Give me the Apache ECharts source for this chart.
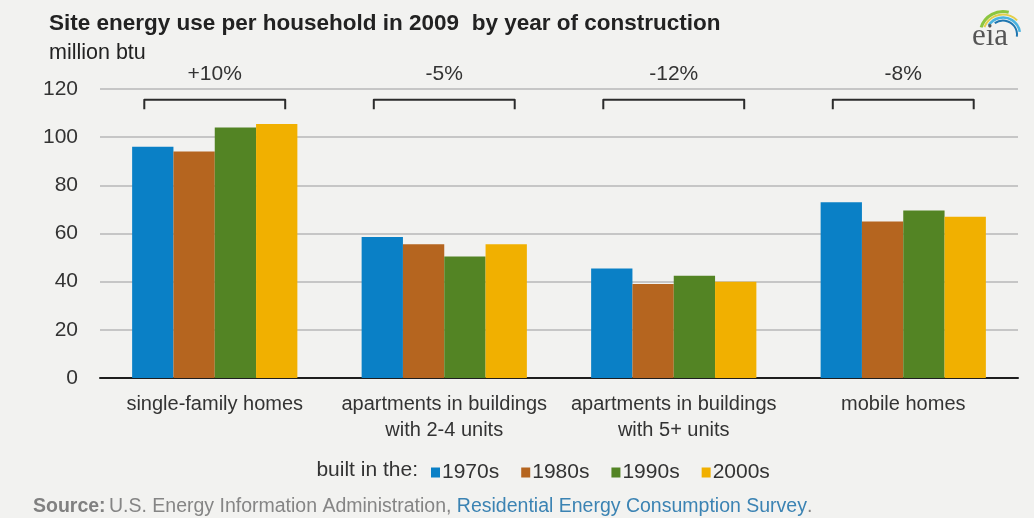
<!DOCTYPE html>
<html>
<head>
<meta charset="utf-8">
<script src="https://cdn.jsdelivr.net/npm/echarts@6/dist/echarts.min.js"></script>
<style>
  html, body { margin: 0; padding: 0; background: #f2f2f0; }
  #chart { width: 1034px; height: 518px; }
</style>
</head>
<body>
<div id="chart"></div>
<script>
// Housing types (category axis)
const categories = [
  'single-family homes',
  'apartments in buildings\nwith 2-4 units',
  'apartments in buildings\nwith 5+ units',
  'mobile homes'
];
// Site energy use per household, million btu, by decade of construction
const built1970s = [96, 58.5, 45.5, 73];
const built1980s = [94, 55.5, 39, 65];
const built1990s = [104, 50.5, 42.5, 69.5];
const built2000s = [105.5, 55.5, 40, 67];
// Change from 1970s to 2000s homes
const changeLabels = ['+10%', '-5%', '-12%', '-8%'];
// Value axis ticks
const yTicks = [0, 20, 40, 60, 80, 100, 120];

const FONT = '"Liberation Sans", Arial, sans-serif';
const TEXT = '#333333';
const colors = ['#0a80c6', '#b5651f', '#538424', '#f1b000'];

const seriesDefs = [
  ['1970s', built1970s],
  ['1980s', built1980s],
  ['1990s', built1990s],
  ['2000s', built2000s]
];

// Bracket levels above each group, in axis units
const BRACKET_TOP = 115.5;
const BRACKET_LEG = 111.6;
const LABEL_LEVEL = 126.3;

const chart = echarts.init(document.getElementById('chart'), null, { renderer: 'canvas' });

const barSeries = seriesDefs.map(([name, values], i) => ({
  name: name,
  type: 'bar',
  data: values,
  barGap: '0%',
  barCategoryGap: '28%',
  itemStyle: { color: colors[i] },
  emphasis: { disabled: true }
}));

const bracketSeries = {
  type: 'custom',
  name: 'change',
  clip: false,
  silent: true,
  data: changeLabels.map((t, i) => [i, 0]),
  renderItem: function (params, api) {
    const cx = api.coord([api.value(0), 0])[0];
    const band = api.size([1, 0])[0];
    const half = band * 0.307;
    const yTop = api.coord([0, BRACKET_TOP])[1];
    const yLeg = api.coord([0, BRACKET_LEG])[1];
    const yLab = api.coord([0, LABEL_LEVEL])[1];
    return {
      type: 'group',
      children: [
        {
          type: 'polyline',
          shape: { points: [[cx - half, yLeg], [cx - half, yTop], [cx + half, yTop], [cx + half, yLeg]] },
          style: { stroke: '#2b2b2b', lineWidth: 2, fill: null, lineJoin: 'round' }
        },
        {
          type: 'text',
          style: {
            x: cx, y: yLab,
            text: changeLabels[params.dataIndex],
            textAlign: 'center', textVerticalAlign: 'middle',
            fill: TEXT, font: '21px ' + FONT
          }
        }
      ]
    };
  }
};

const option = {
  backgroundColor: '#f2f2f0',
  animation: false,
  title: [
    {
      text: 'Site energy use per household in 2009  by year of construction',
      left: 44, top: 7,
      textStyle: { fontFamily: FONT, fontSize: 22.5, fontWeight: 'bold', color: '#222222' }
    },
    {
      text: 'million btu',
      left: 44, top: 37,
      textStyle: { fontFamily: FONT, fontSize: 21.5, fontWeight: 'normal', color: '#222222' }
    }
  ],
  grid: { left: 100, right: 16, top: 89, bottom: 140, containLabel: false },
  legend: {
    data: seriesDefs.map(d => d[0]),
    left: 426, top: 457,
    itemWidth: 9, itemHeight: 10, itemGap: 22,
    icon: 'rect',
    selectedMode: false,
    textStyle: { fontFamily: FONT, fontSize: 21, color: TEXT, padding: [0, 0, 0, -3] }
  },
  xAxis: {
    type: 'category',
    data: categories,
    axisLine: { show: true, lineStyle: { color: '#1e1e1e', width: 2 } },
    axisTick: { show: false },
    axisLabel: {
      interval: 0, margin: 13,
      fontFamily: FONT, fontSize: 20, lineHeight: 26, color: TEXT
    }
  },
  yAxis: {
    type: 'value',
    min: yTicks[0], max: yTicks[yTicks.length - 1], interval: yTicks[1] - yTicks[0],
    axisLine: { show: false },
    axisTick: { show: false },
    splitLine: { lineStyle: { color: '#c6c6c6', width: 2 } },
    axisLabel: { margin: 22, fontFamily: FONT, fontSize: 21, color: TEXT }
  },
  graphic: [
    {
      type: 'text', right: 1034 - 418, top: 460,
      style: { text: 'built in the:', font: '21px ' + FONT, fill: TEXT }
    },
    {
      type: 'text', left: 33, top: 497,
      style: {
        text: '{b|Source:} {n|U.S. Energy Information Administration, }{l|Residential Energy Consumption Survey}{n|.}',
        rich: {
          b: { font: 'bold 19.5px ' + FONT, fill: '#808080' },
          n: { font: '19.5px ' + FONT, fill: '#858585' },
          l: { font: '19.5px ' + FONT, fill: '#3b83b3' }
        }
      }
    },
    // eia mark: swoosh arcs above the lettering
    {
      type: 'group', left: 972, top: 9,
      children: [
        { type: 'arc', shape: { cx: 33, cy: 32, r: 23, startAngle: Math.PI * 1.1, endAngle: Math.PI * 1.58 }, style: { stroke: '#8cc63f', lineWidth: 3, fill: null } },
        { type: 'arc', shape: { cx: 33, cy: 32, r: 20, startAngle: Math.PI * 1.12, endAngle: Math.PI * 1.75 }, style: { stroke: '#e3cf4a', lineWidth: 2, fill: null } },
        { type: 'arc', shape: { cx: 33, cy: 32, r: 17, startAngle: Math.PI * 1.18, endAngle: Math.PI * 1.95 }, style: { stroke: '#4ab3e0', lineWidth: 2.5, fill: null } },
        { type: 'arc', shape: { cx: 33, cy: 32, r: 14, startAngle: Math.PI * 1.3, endAngle: Math.PI * 2.05 }, style: { stroke: '#1f76b0', lineWidth: 2, fill: null } },
        { type: 'text', x: 2, y: 19, style: { text: 'eia', font: '31px "Liberation Serif", "DejaVu Serif", serif', fill: '#555555' } }
      ]
    }
  ],
  series: barSeries.concat([bracketSeries])
};

chart.setOption(option);
</script>
</body>
</html>
